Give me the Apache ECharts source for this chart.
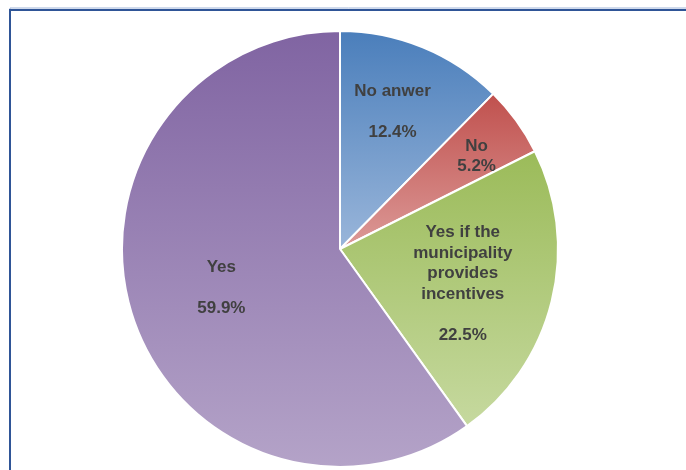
<!DOCTYPE html>
<html>
<head>
<meta charset="utf-8">
<script src="https://cdn.jsdelivr.net/npm/echarts@6/dist/echarts.min.js"></script>
<style>html,body{margin:0;padding:0;background:#fff}#c{width:686px;height:470px}</style>
</head>
<body>
<div id="c"></div>
<script>
var categories = ['No anwer', 'No', 'Yes if the\nmunicipality\nprovides\nincentives', 'Yes'];
var values = [12.4, 5.2, 22.5, 59.9];
var labelTexts = ['No anwer\n\n12.4%', 'No\n5.2%', 'Yes if the\nmunicipality\nprovides\nincentives\n\n22.5%', 'Yes\n\n59.9%'];

var gradients = [
  ['#4a7ebb', '#9ab6da'],
  ['#c0504d', '#dc9a98'],
  ['#9bbb59', '#c6d99f'],
  ['#8064a2', '#b4a3c8']
];
var offsets = [[10, -34], [46, -27], [14, 8], [-12, 5]];

var chart = echarts.init(document.getElementById('c'), null, {renderer: 'canvas'});
var data = values.map(function (v, i) {
  return {
    name: categories[i],
    value: v,
    itemStyle: {
      color: new echarts.graphic.LinearGradient(0, 0, 0, 1, [
        {offset: 0, color: gradients[i][0]},
        {offset: 1, color: gradients[i][1]}
      ])
    },
    label: {formatter: labelTexts[i], offset: offsets[i]}
  };
});
chart.setOption({
  animation: false,
  backgroundColor: '#ffffff',
  graphic: [
    {type: 'rect', shape: {x: 10, y: 8, width: 700, height: 500}, style: {fill: 'none', stroke: '#9fb4d8', lineWidth: 1}, z: 0},
    {type: 'rect', shape: {x: 10, y: 10, width: 700, height: 500}, style: {fill: 'none', stroke: '#2f5597', lineWidth: 2}, z: 1}
  ],
  series: [{
    type: 'pie',
    center: [340, 249],
    radius: [0, 218],
    startAngle: 90,
    clockwise: true,
    avoidLabelOverlap: false,
    itemStyle: {borderColor: '#ffffff', borderWidth: 2},
    label: {
      show: true,
      position: 'inside',
      color: '#404040',
      fontFamily: 'Liberation Sans, Arial, sans-serif',
      fontWeight: 'bold',
      fontSize: 17,
      lineHeight: 20.5,
      align: 'center'
    },
    labelLine: {show: false},
    emphasis: {disabled: true},
    data: data
  }]
});
</script>
</body>
</html>
